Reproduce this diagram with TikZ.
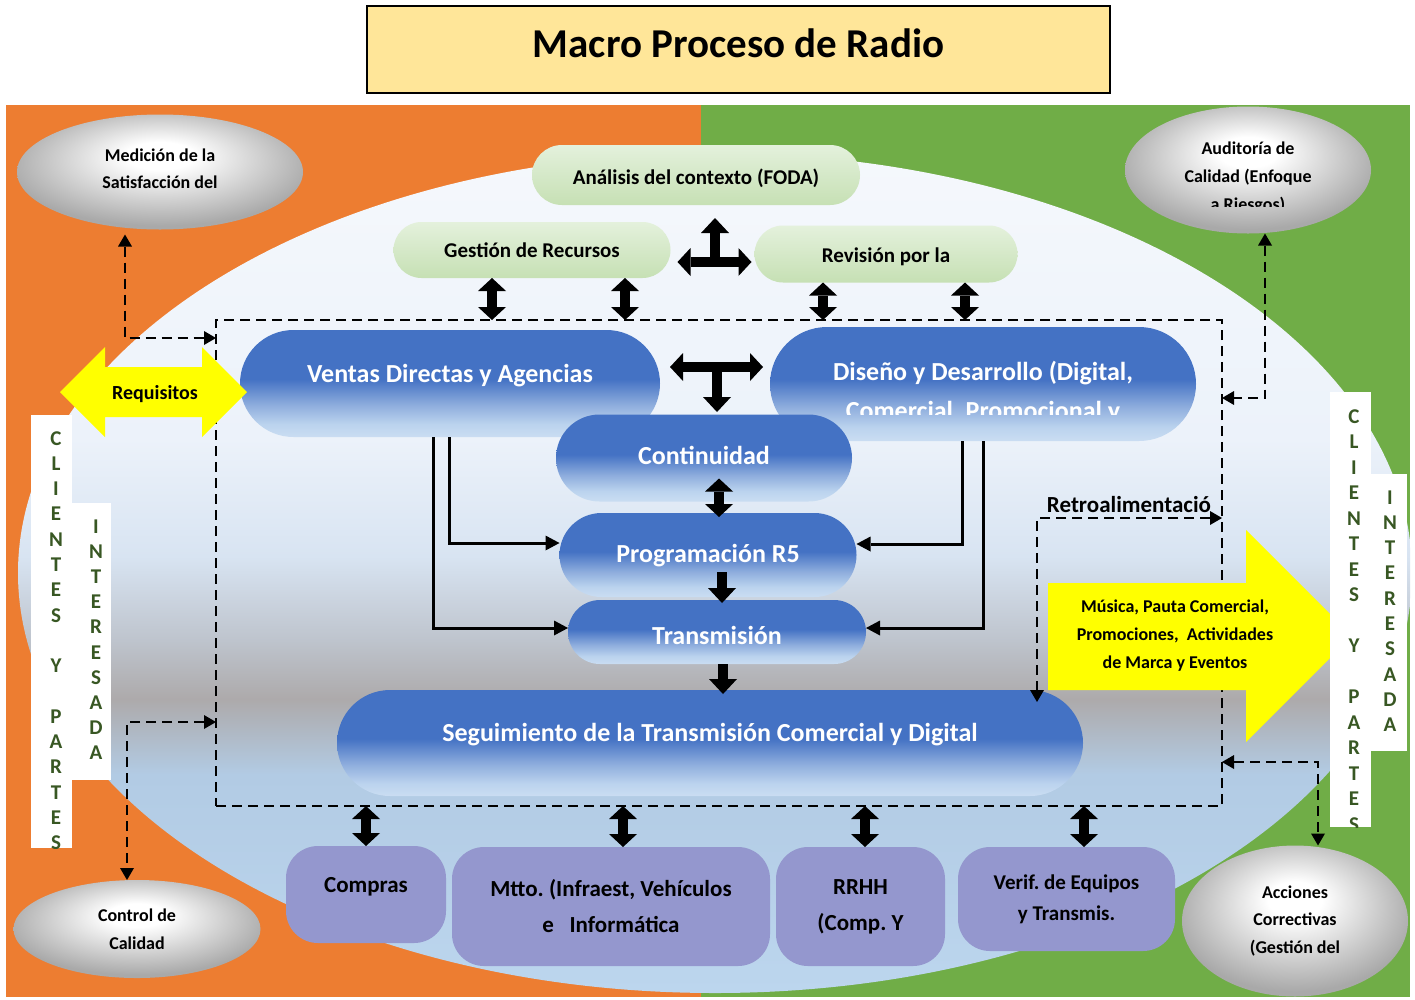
\documentclass[tikz,border=0pt]{standalone}
\usepackage{fontspec}
\setmainfont{Carlito}
\usetikzlibrary{arrows.meta,shapes.misc,shapes.geometric}
\frenchspacing

\definecolor{bgorange}{HTML}{ED7D31}
\definecolor{bggreen}{HTML}{70AD47}
\definecolor{titlefill}{HTML}{FFE699}
\definecolor{purplebox}{HTML}{9497CE}
\definecolor{lettergreen}{HTML}{385723}
\definecolor{arrowyellow}{HTML}{FFFF00}
\definecolor{skyA}{HTML}{F5F8FC}
\definecolor{skyB}{HTML}{ECF2FA}
\definecolor{skyC}{HTML}{D8E4F2}
\definecolor{skyD}{HTML}{BEC4CD}
\definecolor{skyE}{HTML}{ADAAAB}
\definecolor{skyF}{HTML}{B2CBE4}
\definecolor{skyG}{HTML}{BCD6EE}
\definecolor{blueA}{HTML}{4472C4}
\definecolor{blueB}{HTML}{8EADDD}
\definecolor{blueC}{HTML}{BBD3EE}
\definecolor{blueD}{HTML}{CADDF2}
\definecolor{greenA}{HTML}{E4F1DC}
\definecolor{greenB}{HTML}{C6E0B4}
\definecolor{ballEdge}{HTML}{A9A9A9}

% fills: sky behind the process, blue process pills, green planning pills, grey ovals
\pgfdeclareverticalshading{skyfill}{100bp}{color(0bp)=(skyG); color(25bp)=(skyG); color(38bp)=(skyF); color(42.5bp)=(skyE); color(46bp)=(skyD); color(51bp)=(skyC); color(58bp)=(skyB); color(75bp)=(skyA); color(100bp)=(skyA)}
\pgfdeclareverticalshading{bluefill}{100bp}{color(0bp)=(blueD); color(25bp)=(blueD); color(31bp)=(blueC); color(40bp)=(blueB); color(52bp)=(blueA); color(100bp)=(blueA)}
\pgfdeclareverticalshading{greenfill}{100bp}{color(0bp)=(greenB); color(25bp)=(greenB); color(75bp)=(greenA); color(100bp)=(greenA)}
\pgfdeclareradialshading{greyball}{\pgfpoint{0bp}{8bp}}{color(0bp)=(white); color(6bp)=(white); color(27bp)=(ballEdge); color(50bp)=(ballEdge)}

\tikzset{
  every node/.style={inner sep=0pt, outer sep=0pt},
  pill/.style={rounded rectangle, shade},
  bluepill/.style={pill, shading=bluefill},
  greenpill/.style={pill, shading=greenfill},
  greentext/.style={font=\bfseries\fontsize{21}{25}\selectfont, anchor=base},
  bluetext/.style={text=white, font=\bfseries\fontsize{26}{39}\selectfont, anchor=base},
  greyoval/.style={ellipse, shade, shading=greyball, align=center, font=\bfseries\fontsize{18}{27.5}\selectfont},
  ovaltext/.style={font=\bfseries\fontsize{18}{27.5}\selectfont, anchor=base},
  purplecard/.style={rectangle, rounded corners=32pt, fill=purplebox, align=center, font=\bfseries\fontsize{23}{36}\selectfont},
  stripbox/.style={rectangle, fill=white},
  vletter/.style={text=lettergreen, font=\bfseries\fontsize{21}{21}\selectfont, anchor=base},
  blockone/.style={line width=10pt, -{Triangle[length=15pt,width=28pt,line width=0pt]}},
  blocktwo/.style={line width=10pt, {Triangle[length=13pt,width=28pt,line width=0pt]}-{Triangle[length=13pt,width=28pt,line width=0pt]}},
  feed/.style={line width=3pt, -{Triangle[length=14pt,width=15pt,line width=0pt]}},
  dashlink/.style={line width=2.6pt, dash pattern=on 10pt off 6pt, {Triangle[length=12pt,width=14pt,line width=0pt]}-{Triangle[length=12pt,width=14pt,line width=0pt]}},
}

\begin{document}
\begin{tikzpicture}[x=1pt, y=-1pt]
\useasboundingbox (0,0) rectangle (1415,999);
\fill[white] (0,0) rectangle (1415,999);

% two coloured halves and the sky oval
\fill[bgorange] (6,105) rectangle (701,997);
\fill[bggreen] (701,105) rectangle (1410,997);
\begin{scope}
  \clip (6,105) rectangle (1410,997);
  \path[shade, shading=skyfill] (715,573) ellipse [x radius=697pt, y radius=420pt];
\end{scope}

% title
\node[rectangle, draw=black, line width=1.2pt, fill=titlefill, minimum width=743pt, minimum height=87pt] (title) at (738.5,49.5) {};
\node[font=\bfseries\fontsize{41}{49}\selectfont, anchor=base] (titletext) at (738.5,57) {Macro Proceso de Radio};

% grey ovals
\node[greyoval, minimum width=286pt, minimum height=115pt] (med) at (160,172) {};
\node[ovaltext] (med1) at (160,161) {Medición de la};
\node[ovaltext] (med2) at (160,188) {Satisfacción del};
\node[greyoval, minimum width=246pt, minimum height=127pt] (aud) at (1248,170) {};
\begin{scope}
  \clip (aud.west |- aud.north) rectangle ([yshift=27pt]aud.east |- aud.south);
  \node[ovaltext] (aud1) at (1248,154) {Auditoría de};
  \node[ovaltext] (aud2) at (1248,182) {Calidad (Enfoque};
  \node[ovaltext] (aud3) at (1248,210) {a Riesgos)};
\end{scope}
\node[greyoval, minimum width=247pt, minimum height=98pt] (ctrl) at (137,929) {Control de\\Calidad};
\node[greyoval, minimum width=226pt, minimum height=151pt] (acc) at (1295,921) {Acciones\\Correctivas\\(Gestión del};

% dashed process frame
\node[draw, line width=2.6pt, dash pattern=on 10pt off 6pt, minimum width=1006pt, minimum height=486pt] (frame) at (719,563) {};

% planning pills
\node[greenpill, minimum width=328pt, minimum height=60pt] (foda) at (696,175) {};
\node[greentext] (fodaT) at (696,184) {Análisis del contexto (FODA)};
\node[greenpill, minimum width=277pt, minimum height=56pt] (gest) at (532,250) {};
\node[greentext] (gestT) at (532,257) {Gestión de Recursos};
\node[greenpill, minimum width=263pt, minimum height=57pt] (revis) at (886,254) {};
\node[greentext] (revisT) at (886,262) {Revisión por la};

% core process pills
\node[bluepill, minimum width=420pt, minimum height=107pt] (ventas) at (450,383.5) {};
\node[bluetext] (ventasT) at (450,382) {Ventas Directas y Agencias};
\node[bluepill, minimum width=426pt, minimum height=114pt] (diseno) at (983,384) {};
\begin{scope}
  \clip (diseno.west |- diseno.north) rectangle ([yshift=27pt]diseno.east |- diseno.south);
  \node[bluetext] (disenoT1) at (983,380) {Diseño y Desarrollo (Digital,};
  \node[bluetext] (disenoT2) at (983,419) {Comercial, Promocional y};
\end{scope}
\node[bluepill, minimum width=296pt, minimum height=87pt] (contin) at (704,458) {};
\node[bluetext] (continT) at (704,464) {Continuidad};
\node[bluepill, minimum width=297pt, minimum height=84pt] (prog) at (708,555) {};
\node[bluetext] (progT) at (708,562) {Programación R5};
\node[bluepill, minimum width=298pt, minimum height=64pt] (trans) at (717,632) {};
\node[bluetext] (transT) at (717,644) {Transmisión};
\node[bluepill, minimum width=746pt, minimum height=106pt] (seg) at (710,743) {};
\node[bluetext] (segT) at (710,741) {Seguimiento de la Transmisión Comercial y Digital};

% support processes
\node[purplecard, minimum width=160pt, minimum height=97pt] (compras) at (366,894.5) {};
\node[font=\bfseries\fontsize{23}{36}\selectfont] (comprasT) at (366,887) {Compras};
\node[purplecard, minimum width=318pt, minimum height=119pt] (mtto) at (611,906.5) {Mtto. (Infraest, Vehículos\\e\ \ \ Informática};
\node[purplecard, minimum width=169pt, minimum height=119pt] (rrhh) at (860.5,906.5) {RRHH\\(Comp. Y};
\node[purplecard, minimum width=217pt, minimum height=104pt, font=\bfseries\fontsize{21}{31}\selectfont] (verif) at (1066.5,899) {Verif. de Equipos\\y Transmis.};

% planning links
\coordinate (g1) at ([xshift=-40pt]gest.south);
\coordinate (g2) at ([xshift=93pt]gest.south);
\coordinate (r1) at ([xshift=-63pt]revis.south);
\coordinate (r2) at ([xshift=79pt]revis.south);
\draw[blocktwo] (g1) -- (g1 |- frame.north);
\draw[blocktwo] (g2) -- (g2 |- frame.north);
\draw[blocktwo] (r1) -- (r1 |- frame.north);
\draw[blocktwo] (r2) -- (r2 |- frame.north);

\coordinate (j1) at (715,262);
\coordinate (jl) at (gest.east |- j1);
\coordinate (jr) at (revis.west |- j1);
\coordinate (ju) at (j1 |- foda.south);
\draw[blocktwo] ([xshift=7pt]jl) -- ([xshift=-3pt]jr);
\draw[blockone] (j1) -- ([yshift=-13pt]ju);

\coordinate (j2) at (717,367);
\coordinate (kl) at (ventas.east |- j2);
\coordinate (kr) at (diseno.west |- j2);
\coordinate (kd) at (j2 |- contin.north);
\draw[blocktwo] ([xshift=10pt]kl) -- ([xshift=-7pt]kr);
\draw[blockone] (j2) -- ([yshift=2.5pt]kd);

% main flow
\coordinate (cp) at ([xshift=15pt]contin.south);
\coordinate (cpd) at (cp |- prog.north);
\draw[blocktwo] ([yshift=23pt]cp) -- ([yshift=-4pt]cpd);
\coordinate (pt) at ([xshift=14pt]prog.south);
\coordinate (ptd) at (pt |- trans.north);
\draw[blockone] ([yshift=25pt]pt) -- ([yshift=-3pt]ptd);
\coordinate (ts) at ([xshift=6pt]trans.south);
\coordinate (tsd) at (ts |- seg.north);
\draw[blockone] (ts) -- ([yshift=-4pt]tsd);

% frame to support processes
\coordinate (b1) at (compras.north);
\coordinate (b2) at ([xshift=12pt]mtto.north);
\coordinate (b3) at ([xshift=4.5pt]rrhh.north);
\coordinate (b4) at ([xshift=17.5pt]verif.north);
\draw[blocktwo] (b1 |- frame.south) -- (b1);
\draw[blocktwo] (b2 |- frame.south) -- (b2);
\draw[blocktwo] (b3 |- frame.south) -- (b3);
\draw[blocktwo] (b4 |- frame.south) -- (b4);

% feeds from sales and design
\coordinate (va) at ([xshift=-1pt]ventas.south);
\coordinate (vb) at ([xshift=-17pt]ventas.south);
\coordinate (da) at ([xshift=-21pt]diseno.south);
\coordinate (db) at (diseno.south);
\draw[feed] (va) |- ([yshift=12pt]prog.west);
\draw[feed] (vb) |- ([yshift=4pt]trans.west);
\draw[feed] (da) |- ([yshift=11pt]prog.east);
\draw[feed] (db) |- ([yshift=4pt]trans.east);

% inputs and outputs
\path[fill=arrowyellow] (60,392) -- (105,347) -- (105,367) -- (202,367) -- (202,347) -- (247,392)
  -- (202,437) -- (202,417) -- (105,417) -- (105,437) -- cycle;
\node[font=\bfseries\fontsize{20}{24}\selectfont, anchor=base] (req) at (155,399) {Requisitos};
\path[fill=arrowyellow] (1048,583) -- (1246,583) -- (1246,530) -- (1352,636) -- (1246,742)
  -- (1246,690) -- (1048,690) -- cycle;
\node[align=center, font=\bfseries\fontsize{18}{28}\selectfont] (outT) at (1175,636) {Música, Pauta Comercial,\\Promociones,\ \ Actividades\\de Marca y Eventos};

% stakeholder strips
\node[stripbox, minimum width=41pt, minimum height=433pt] (sl1) at (51.5,631.5) {};
\node[stripbox, minimum width=39pt, minimum height=277pt] (sl2) at (91.5,641.5) {};
\node[stripbox, minimum width=41pt, minimum height=435pt] (sr1) at (1350.5,609.5) {};
\node[stripbox, minimum width=36pt, minimum height=277pt] (sr2) at (1389,612.5) {};
\begin{scope}
  \clip (sl1.south west) rectangle (sl1.north east);
  \foreach \i/\ch in {0/C,1/L,2/I,3/E,4/N,5/T,6/E,7/S,9/Y,11/P,12/A,13/R,14/T,15/E,16/S}
    \node[vletter] (ll-\i) at (56,445+25.3*\i) {\ch};
\end{scope}
\begin{scope}
  \clip (sl2.south west) rectangle (sl2.north east);
  \foreach \i/\ch in {0/I,1/N,2/T,3/E,4/R,5/E,6/S,7/A,8/D,9/A}
    \node[vletter] (lm-\i) at (96,533+25.2*\i) {\ch};
\end{scope}
\begin{scope}
  \clip (sr1.south west) rectangle (sr1.north east);
  \foreach \i/\ch in {0/C,1/L,2/I,3/E,4/N,5/T,6/E,7/S,9/Y,11/P,12/A,13/R,14/T,15/E,16/S}
    \node[vletter] (rl-\i) at (1354,423+25.5*\i) {\ch};
\end{scope}
\begin{scope}
  \clip (sr2.south west) rectangle (sr2.north east);
  \foreach \i/\ch in {0/I,1/N,2/T,3/E,4/R,5/E,6/S,7/A,8/D,9/A}
    \node[vletter] (rm-\i) at (1390,504+25.3*\i) {\ch};
\end{scope}

% dashed feedback links
\coordinate (mc) at (125,338);
\coordinate (medfoot) at (mc |- med.south);
\draw[dashlink] ([yshift=-5pt]medfoot) -- (mc) -- (mc -| frame.west);

\coordinate (ac) at (1265,398);
\coordinate (audfoot) at (ac |- aud.south);
\draw[dashlink] (audfoot) -- (ac) -- (ac -| frame.east);

\coordinate (cc) at (127,722);
\draw[dashlink] (cc -| frame.west) -- (cc) -- (cc |- ctrl.north);

\coordinate (kc) at (1318,762);
\draw[dashlink] (kc -| frame.east) -- (kc) -- (kc |- acc.north);

\coordinate (rc) at (1037,518);
\coordinate (retfoot) at (rc |- seg.north);
\draw[dashlink] (rc -| frame.east) -- (rc) -- ([yshift=-12pt]retfoot);
\node[font=\bfseries\fontsize{23}{27}\selectfont, anchor=base] (retro) at (1129,512) {Retroalimentació};
\end{tikzpicture}
\end{document}
